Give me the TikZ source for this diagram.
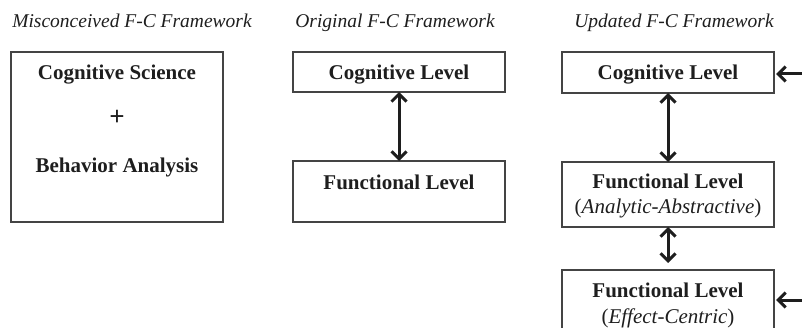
\documentclass[tikz,border=0pt]{standalone}
\usepackage{fontspec}
\setmainfont{Liberation Serif}
\usetikzlibrary{arrows.meta}
\definecolor{ink}{HTML}{1E1E1E}
\definecolor{frame}{HTML}{444444}
\tikzset{
  panelbox/.style={draw=frame, line width=1.4pt, minimum width=212pt, inner sep=0pt, outer sep=0pt},
  paneltitle/.style={anchor=base, inner sep=0pt, text=ink, font=\fontsize{19.5}{22}\selectfont\itshape},
  boldtext/.style={anchor=base, inner sep=0pt, text=ink, font=\fontsize{21}{24}\selectfont\bfseries},
  subtext/.style={anchor=base, inner sep=0pt, text=ink, font=\fontsize{21}{24}\selectfont},
  barb/.tip={Straight Barb[length=7.5pt,width=15pt,line width=3pt]},
  twoway/.style={draw=ink, line width=3pt, barb-barb},
  oneway/.style={draw=ink, line width=3pt, -barb}
}
\begin{document}
\begin{tikzpicture}[x=1pt, y=-1pt]
\useasboundingbox (0,0) rectangle (802,328);

% misconceived framework
\node[paneltitle] (t1) at (132,27.5) {Misconceived F-C Framework};
\node[panelbox, minimum height=170pt] (m1) at (117,137) {};
\node[boldtext] (m1a) at (117,80) {Cognitive Science};
\node[boldtext, font=\fontsize{27}{30}\selectfont\bfseries] (m1b) at (117,126) {+};
\node[boldtext] (m1c) at (117,173) {Behavior Analysis};

% original framework
\node[paneltitle] (t2) at (395,27.5) {Original F-C Framework};
\node[panelbox, minimum height=40pt] (o1) at (399,72) {};
\node[boldtext] (o1a) at (399,80) {Cognitive Level};
\node[panelbox, minimum height=61pt] (o2) at (399,191.5) {};
\node[boldtext] (o2a) at (399,190) {Functional Level};
\draw[twoway] (o1.south) -- (o2.north);

% updated framework
\node[paneltitle] (t3) at (674,27.5) {Updated F-C Framework};
\node[panelbox, minimum height=41pt] (u1) at (668,72.5) {};
\node[boldtext] (u1a) at (668,80) {Cognitive Level};
\node[panelbox, minimum height=65pt] (u2) at (668,194.5) {};
\node[boldtext] (u2a) at (668,188.5) {Functional Level};
\node[subtext] (u2b) at (668,214) {(\textit{Analytic-Abstractive})};
\node[panelbox, minimum height=65pt] (u3) at (668,302.5) {};
\node[boldtext] (u3a) at (668,297.5) {Functional Level};
\node[subtext] (u3b) at (668,323) {(\textit{Effect-Centric})};
\draw[twoway] (u1.south) -- (u2.north);
\coordinate (gap) at ([yshift=7pt]u3.north);
\draw[twoway] (u2.south) -- (gap);

% inputs from the right
\coordinate (in1) at (804,74);
\coordinate (in2) at (804,300);
\draw[oneway] (in1) -- ([xshift=2pt]in1 -| u1.east);
\draw[oneway] (in2) -- ([xshift=2pt]in2 -| u3.east);
\end{tikzpicture}
\end{document}
